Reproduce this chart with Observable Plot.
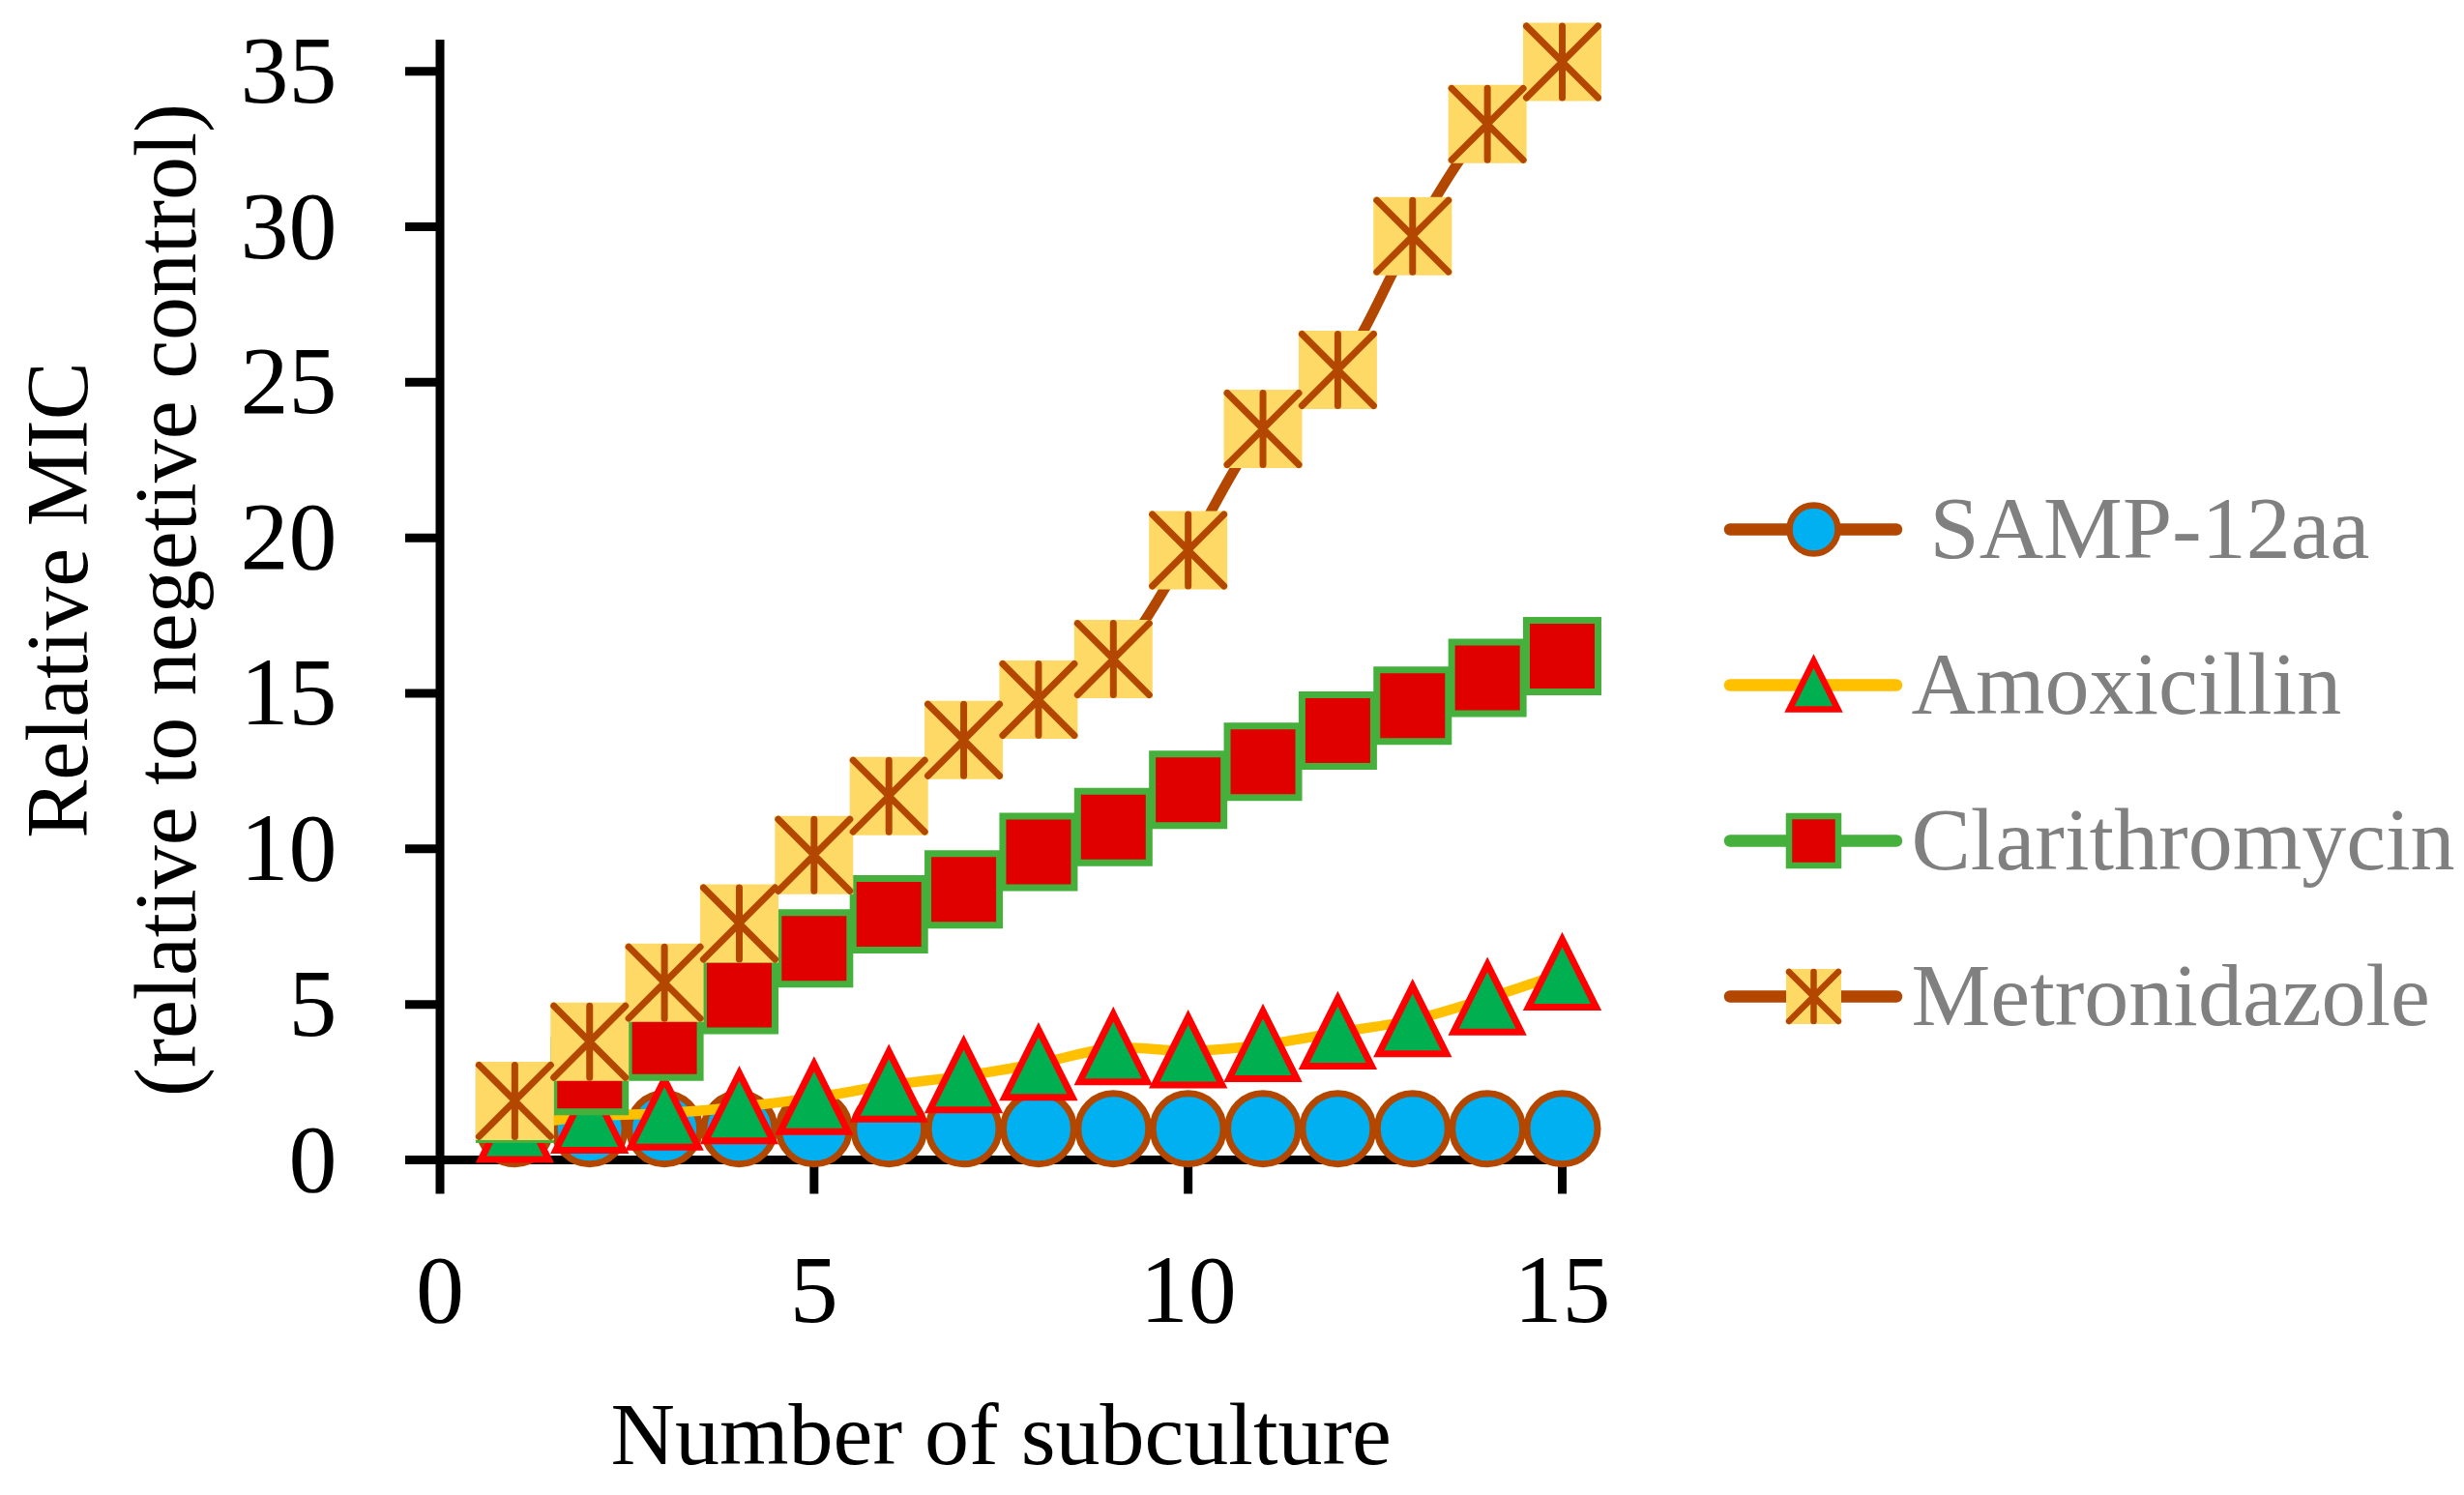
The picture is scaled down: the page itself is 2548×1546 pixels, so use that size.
<!DOCTYPE html>
<html>
<head>
<meta charset="utf-8">
<script src="https://cdn.jsdelivr.net/npm/d3@7"></script>
<script src="https://cdn.jsdelivr.net/npm/@observablehq/plot@0.6"></script>
<style>
  html, body { margin: 0; padding: 0; background: #ffffff; }
  #wrap { position: relative; width: 2548px; height: 1546px; overflow: hidden; background: #ffffff; }
  #chart { position: absolute; left: 0; top: 0; }
  #legend { position: absolute; left: 1700px; top: 400px; width: 848px; }
</style>
</head>
<body>
<div id="wrap"><div id="chart"></div><div id="legend"></div></div>
<script>
// ---- data ----
const subculture = [1, 2, 3, 4, 5, 6, 7, 8, 9, 10, 11, 12, 13, 14, 15];
const samp12aa = [1, 1, 1, 1, 1, 1, 1, 1, 1, 1, 1, 1, 1, 1, 1];
const amoxicillin = [1.1, 1.4, 1.5, 1.7, 2.0, 2.4, 2.7, 3.1, 3.6, 3.5, 3.7, 4.1, 4.5, 5.2, 6.0];
const clarithromycin = [1.8, 2.7, 3.8, 5.3, 6.8, 7.9, 8.7, 9.9, 10.7, 11.9, 12.8, 13.8, 14.6, 15.5, 16.2];
const metronidazole = [1.9, 3.8, 5.7, 7.6, 9.8, 11.7, 13.5, 14.8, 16.1, 19.6, 23.5, 25.4, 29.7, 33.3, 35.3];
const seriesNames = ["SAMP-12aa", "Amoxicillin", "Clarithromycin", "Metronidazole"];
const xTicks = [0, 5, 10, 15];
const yTicks = [0, 5, 10, 15, 20, 25, 30, 35];
const xTitle = "Number of subculture";
const yTitle = "Relative MIC\n(relative to negetive control)";

const rows = (name, vals) => subculture.map((x, i) => ({series: name, x, y: vals[i]}));
const dSamp = rows(seriesNames[0], samp12aa);
const dAmox = rows(seriesNames[1], amoxicillin);
const dClar = rows(seriesNames[2], clarithromycin);
const dMetro = rows(seriesNames[3], metronidazole);

// ---- Excel-like marker shapes (size = pi r^2) ----
const half = (size) => Math.sqrt(size / Math.PI);
const boxTriangle = {draw(ctx, size) { const h = half(size); ctx.moveTo(0, -h); ctx.lineTo(h, h); ctx.lineTo(-h, h); ctx.closePath(); }};
const boxSquare = {draw(ctx, size) { const h = half(size); ctx.moveTo(-h, -h); ctx.lineTo(h, -h); ctx.lineTo(h, h); ctx.lineTo(-h, h); ctx.closePath(); }};
const starLines = {draw(ctx, size) { const h = half(size);
  ctx.moveTo(-h, -h); ctx.lineTo(h, h);
  ctx.moveTo(-h, h); ctx.lineTo(h, -h);
  ctx.moveTo(0, -h); ctx.lineTo(0, h); }};

const FONT = "'Liberation Serif', 'Times New Roman', serif";
const brown = "#b34700";
const blue = "#00b0f0";
const gold = "#ffc000";
const triFill = "#00b050";
const red = "#ff0000";
const green = "#46b03c";
const sqFill = "#e00000";
const yellow = "#ffd966";
const LW = 10.5;
const LLW = 12.5;

const chart = Plot.plot({
  width: 2548,
  height: 1546,
  marginLeft: 454.5,
  marginRight: 933,
  marginTop: 41,
  marginBottom: 347,
  style: {fontFamily: FONT, fontSize: "100px", background: "white", overflow: "visible", color: "black"},
  x: {domain: [0, 15]},
  y: {domain: [0, 36]},
  marks: [
    Plot.axisX({ticks: xTicks, tickSize: 35.5, tickPadding: 61, strokeWidth: 9, fontSize: 100, fontFamily: FONT, label: null}),
    Plot.axisY({ticks: yTicks, tickSize: 35.5, tickPadding: 71, strokeWidth: 9, fontSize: 100, fontFamily: FONT, label: null}),
    Plot.ruleX([0], {y1: 0, y2: 36, stroke: "black", strokeWidth: 9}),
    Plot.ruleY([0], {x1: 0, x2: 15, stroke: "black", strokeWidth: 9}),
    Plot.text([yTitle], {text: d => d, frameAnchor: "left", dx: -344.5, rotate: -90, fontSize: 90, lineHeight: 1.24, textAnchor: "middle", lineAnchor: "middle", fill: "black", fontFamily: FONT}),
    Plot.text([xTitle], {text: d => d, frameAnchor: "bottom", dy: 314, lineAnchor: "bottom", textAnchor: "middle", fontSize: 92, fill: "black", fontFamily: FONT}),
    // SAMP-12aa
    Plot.line(dSamp, {x: "x", y: "y", stroke: brown, strokeWidth: LW, curve: "catmull-rom"}),
    Plot.dot(dSamp, {x: "x", y: "y", r: 36.5, fill: blue, stroke: brown, strokeWidth: 7}),
    // Amoxicillin
    Plot.line(dAmox, {x: "x", y: "y", stroke: gold, strokeWidth: LW, curve: "catmull-rom"}),
    Plot.dot(dAmox, {x: "x", y: "y", r: 35, symbol: boxTriangle, fill: triFill, stroke: red, strokeWidth: 7, strokeLinejoin: "miter"}),
    // Clarithromycin
    Plot.line(dClar, {x: "x", y: "y", stroke: green, strokeWidth: LW, curve: "catmull-rom"}),
    Plot.dot(dClar, {x: "x", y: "y", r: 37, symbol: boxSquare, fill: sqFill, stroke: green, strokeWidth: 7, strokeLinejoin: "miter"}),
    // Metronidazole
    Plot.line(dMetro, {x: "x", y: "y", stroke: brown, strokeWidth: LW, curve: "catmull-rom"}),
    Plot.dot(dMetro, {x: "x", y: "y", r: 40.5, symbol: boxSquare, fill: yellow, stroke: "none"}),
    Plot.dot(dMetro, {x: "x", y: "y", r: 37, symbol: starLines, fill: "none", stroke: brown, strokeWidth: 7, strokeLinecap: "round"})
  ]
});
document.getElementById("chart").appendChild(chart);

// ---- legend (its own small Plot) ----
const legendLineColors = [brown, gold, green, brown];
const lg = Plot.plot({
  width: 848,
  height: 760,
  marginLeft: 0, marginRight: 0, marginTop: 0, marginBottom: 0,
  style: {fontFamily: FONT, background: "transparent", overflow: "visible"},
  x: {domain: [0, 1], range: [89, 261], axis: null},
  y: {type: "point", domain: seriesNames, range: [146, 630], padding: 0, axis: null},
  marks: [
    ...seriesNames.map((name, i) => Plot.ruleY([name], {y: d => d, x1: 0, x2: 1, stroke: legendLineColors[i], strokeWidth: LLW, strokeLinecap: "round"})),
    Plot.dot([seriesNames[0]], {x: 0.5, y: d => d, r: 25, fill: blue, stroke: brown, strokeWidth: 6.5}),
    Plot.dot([seriesNames[1]], {x: 0.5, y: d => d, r: 25, symbol: boxTriangle, fill: triFill, stroke: red, strokeWidth: 6.5, strokeLinejoin: "miter"}),
    Plot.dot([seriesNames[2]], {x: 0.5, y: d => d, r: 25.5, symbol: boxSquare, fill: sqFill, stroke: green, strokeWidth: 6.5, strokeLinejoin: "miter"}),
    Plot.dot([seriesNames[3]], {x: 0.5, y: d => d, r: 28.5, symbol: boxSquare, fill: yellow, stroke: "none"}),
    Plot.dot([seriesNames[3]], {x: 0.5, y: d => d, r: 25.5, symbol: starLines, fill: "none", stroke: brown, strokeWidth: 6.5, strokeLinecap: "round"}),
    Plot.text([seriesNames[0]], {x: 1, y: d => d, text: d => d, dx: 34, textAnchor: "start", lineAnchor: "middle", fontSize: 92, fill: "#808080", fontFamily: FONT}),
    Plot.text(seriesNames.slice(1), {x: 1, y: d => d, text: d => d, dx: 15, textAnchor: "start", lineAnchor: "middle", fontSize: 92, fill: "#808080", fontFamily: FONT})
  ]
});
document.getElementById("legend").appendChild(lg);
</script>
</body>
</html>
